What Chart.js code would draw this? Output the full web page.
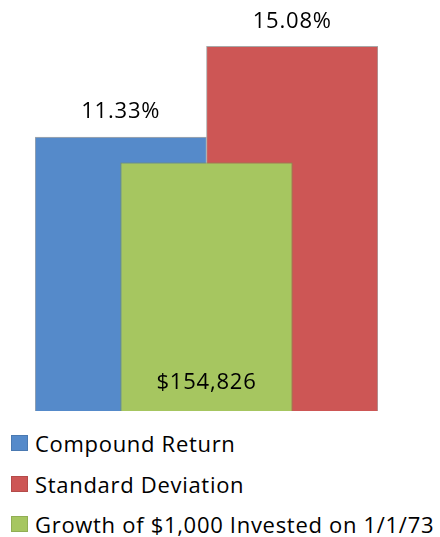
<!DOCTYPE html>
<html>
<head>
<meta charset="utf-8">
<script src="https://cdn.jsdelivr.net/npm/chart.js@4.4.1/dist/chart.umd.min.js"></script>
<style>
  html, body { margin: 0; padding: 0; background: #ffffff; }
  #wrap { position: relative; width: 440px; height: 537px; overflow: hidden; }
  #chart { position: absolute; left: 0; top: 0; }
  .leg { position: absolute; left: 11px; height: 24px; display: flex; align-items: center;
         font-family: "Open Sans", sans-serif; font-size: 22px; color: #000; white-space: nowrap; letter-spacing: 0.7px; }
  .leg .box { width: 17px; height: 16px; margin-right: 7px; box-sizing: border-box; border: 1px solid rgba(0,0,0,0.12); }
</style>
</head>
<body>
<div id="wrap">
  <canvas id="chart" width="440" height="415"></canvas>
  <div id="legend"></div>
</div>
<script>
// ---- data ----
const categories = ['Portfolio'];
const seriesNames = ['Compound Return', 'Standard Deviation', 'Growth of $1,000 Invested on 1/1/73'];
const compoundReturn = [11.33];
const standardDeviation = [15.08];
const growthOf1000 = [154826];

const colors = ['#558ACA', '#CD5655', '#A6C660'];
const borders = ['#A8A8A8', '#A8A8A8', '#7C9150'];

const labelPlugin = {
  id: 'valueLabels',
  afterDatasetsDraw(chart) {
    const ctx = chart.ctx;
    ctx.save();
    ctx.font = '22px "Open Sans", sans-serif';
    if ('letterSpacing' in ctx) ctx.letterSpacing = '0.8px';
    ctx.fillStyle = '#000';
    ctx.textAlign = 'center';
    ctx.textBaseline = 'middle';
    chart.data.datasets.forEach((ds, di) => {
      const meta = chart.getDatasetMeta(di);
      meta.data.forEach((bar, i) => {
        const v = ds.data[i];
        if (ds.kind === 'money') {
          ctx.fillText('$' + v.toLocaleString('en-US'), bar.x, bar.base - 28);
        } else {
          ctx.fillText(v.toFixed(2) + '%', bar.x, bar.y - 25);
        }
      });
    });
    ctx.restore();
  }
};

const chart = new Chart(document.getElementById('chart'), {
  type: 'bar',
  data: {
    labels: categories,
    datasets: [
      { label: seriesNames[0], data: compoundReturn, backgroundColor: colors[0], borderColor: borders[0],
        borderWidth: 1, yAxisID: 'y', order: 1, kind: 'pct',
        categoryPercentage: 1, barPercentage: 1 },
      { label: seriesNames[1], data: standardDeviation, backgroundColor: colors[1], borderColor: borders[1],
        borderWidth: 1, yAxisID: 'y', order: 1, kind: 'pct',
        categoryPercentage: 1, barPercentage: 1 },
      { label: seriesNames[2], data: growthOf1000, backgroundColor: colors[2], borderColor: borders[2],
        borderWidth: 1, yAxisID: 'y2', order: 0, kind: 'money', grouped: false,
        categoryPercentage: 1, barPercentage: 0.502 }
    ]
  },
  options: {
    responsive: false,
    animation: false,
    devicePixelRatio: 1,
    layout: { padding: { left: 35, right: 62, top: 0, bottom: 4 } },
    plugins: { legend: { display: false }, tooltip: { enabled: false } },
    scales: {
      x: { display: false, offset: true },
      y: { display: false, min: 0, max: 17 },
      y2: { display: false, min: 0, max: 256000, position: 'right' }
    }
  },
  plugins: [labelPlugin]
});

// ---- legend (vertical, below chart) ----
const legend = document.getElementById('legend');
const rowTops = [431, 472, 512];
chart.data.datasets.forEach((ds, i) => {
  const row = document.createElement('div');
  row.className = 'leg';
  row.style.top = rowTops[i] + 'px';
  const box = document.createElement('span');
  box.className = 'box';
  box.style.background = ds.backgroundColor;
  const txt = document.createElement('span');
  txt.textContent = ds.label;
  row.appendChild(box);
  row.appendChild(txt);
  legend.appendChild(row);
});
</script>
</body>
</html>
